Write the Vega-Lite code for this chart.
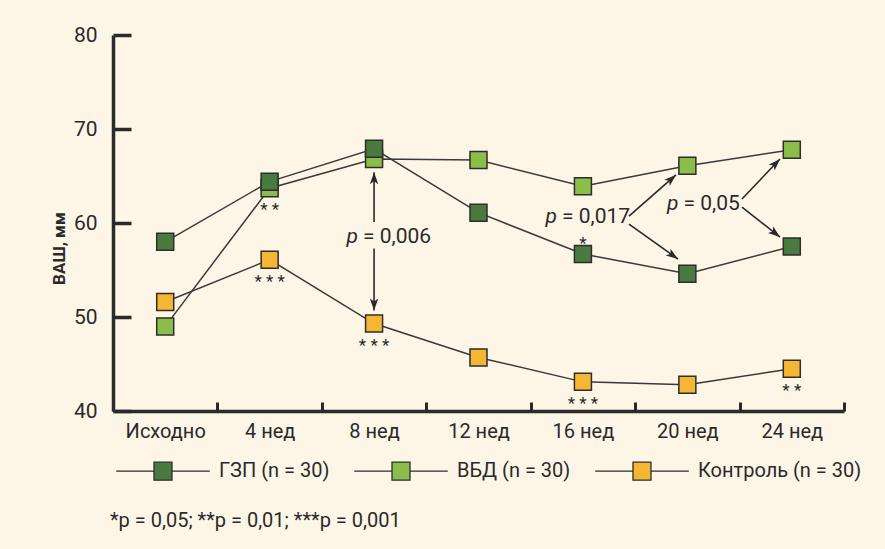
{
  "$schema": "https://vega.github.io/schema/vega-lite/v6.json",
  "width": 731,
  "height": 376,
  "autosize": "none",
  "padding": {"left": 113, "top": 35, "right": 41, "bottom": 138},
  "background": "#fdf6e6",
  "config": {
    "font": "Roboto, Liberation Sans, sans-serif",
    "view": {"stroke": null}
  },
  "title": {
    "text": "*p = 0,05; **p = 0,01; ***p = 0,001",
    "orient": "bottom",
    "anchor": "start",
    "frame": "group",
    "offset": 28,
    "dx": -3,
    "fontSize": 20,
    "fontWeight": "normal",
    "color": "#2a2a2a"
  },
  "datasets": {
    "main": [
      {"week": "Исходно", "series": "ВБД (n = 30)", "value": 49.0},
      {"week": "4 нед", "series": "ВБД (n = 30)", "value": 63.7},
      {"week": "8 нед", "series": "ВБД (n = 30)", "value": 66.8},
      {"week": "12 нед", "series": "ВБД (n = 30)", "value": 66.7},
      {"week": "16 нед", "series": "ВБД (n = 30)", "value": 63.9},
      {"week": "20 нед", "series": "ВБД (n = 30)", "value": 66.1},
      {"week": "24 нед", "series": "ВБД (n = 30)", "value": 67.8},
      {"week": "Исходно", "series": "ГЗП (n = 30)", "value": 58.0},
      {"week": "4 нед", "series": "ГЗП (n = 30)", "value": 64.4},
      {"week": "8 нед", "series": "ГЗП (n = 30)", "value": 67.9},
      {"week": "12 нед", "series": "ГЗП (n = 30)", "value": 61.1},
      {"week": "16 нед", "series": "ГЗП (n = 30)", "value": 56.7},
      {"week": "20 нед", "series": "ГЗП (n = 30)", "value": 54.6},
      {"week": "24 нед", "series": "ГЗП (n = 30)", "value": 57.5},
      {"week": "Исходно", "series": "Контроль (n = 30)", "value": 51.6},
      {"week": "4 нед", "series": "Контроль (n = 30)", "value": 56.1},
      {"week": "8 нед", "series": "Контроль (n = 30)", "value": 49.3},
      {"week": "12 нед", "series": "Контроль (n = 30)", "value": 45.7},
      {"week": "16 нед", "series": "Контроль (n = 30)", "value": 43.1},
      {"week": "20 нед", "series": "Контроль (n = 30)", "value": 42.8},
      {"week": "24 нед", "series": "Контроль (n = 30)", "value": 44.5}
    ],
    "stars": [
      {"week": "4 нед", "value": 63.7, "stars": "* *", "pos": "below"},
      {"week": "4 нед", "value": 56.1, "stars": "* * *", "pos": "below"},
      {"week": "8 нед", "value": 49.3, "stars": "* * *", "pos": "below"},
      {"week": "16 нед", "value": 43.1, "stars": "* * *", "pos": "below"},
      {"week": "24 нед", "value": 44.5, "stars": "* *", "pos": "below"},
      {"week": "16 нед", "value": 56.7, "stars": "*", "pos": "above"}
    ],
    "arrows": [
      {"x1": 2.0, "y1": 60.1, "x2": 2.0, "y2": 65.4, "angle": 0},
      {"x1": 2.0, "y1": 57.3, "x2": 2.0, "y2": 50.7, "angle": 180},
      {"x1": 4.441, "y1": 60.74, "x2": 4.891, "y2": 65.11, "angle": 49},
      {"x1": 4.441, "y1": 59.89, "x2": 4.91, "y2": 56.17, "angle": 125},
      {"x1": 5.523, "y1": 62.55, "x2": 5.887, "y2": 66.81, "angle": 44},
      {"x1": 5.523, "y1": 61.7, "x2": 5.887, "y2": 58.51, "angle": 128}
    ],
    "plabels": [
      {"x": 1.865, "y": 58.5, "p": "p", "rest": "= 0,006"},
      {"x": 3.771, "y": 60.64, "p": "p", "rest": "= 0,017"},
      {"x": 4.934, "y": 62.02, "p": "p", "rest": "= 0,05"}
    ]
  },
  "resolve": {"scale": {"x": "independent"}},
  "layer": [
    {
      "data": {"name": "main"},
      "encoding": {
        "x": {
          "field": "week",
          "type": "nominal",
          "sort": ["Исходно", "4 нед", "8 нед", "12 нед", "16 нед", "20 нед", "24 нед"],
          "scale": {"paddingInner": 0, "paddingOuter": 0},
          "axis": {
            "title": null,
            "labelAngle": 0,
            "tickBand": "extent",
            "tickSize": -9,
            "tickWidth": 3,
            "tickColor": "#2a2a2a",
            "domainWidth": 3.5,
            "domainColor": "#2a2a2a",
            "labelFontSize": 20,
            "labelColor": "#2a2a2a",
            "labelPadding": 19
          }
        },
        "y": {
          "field": "value",
          "type": "quantitative",
          "scale": {"domain": [40, 80], "nice": false, "zero": false},
          "axis": {
            "title": "ВАШ, мм",
            "values": [40, 50, 60, 70, 80],
            "grid": false,
            "tickSize": -18,
            "tickWidth": 3.5,
            "tickColor": "#2a2a2a",
            "domainWidth": 3.5,
            "domainColor": "#2a2a2a",
            "labelFontSize": 21,
            "labelColor": "#2a2a2a",
            "labelPadding": 34,
            "titleFontSize": 17,
            "titleFontWeight": "bold",
            "titleColor": "#2a2a2a",
            "titleX": -54,
            "titleY": 213,
            "titleBaseline": "middle"
          }
        }
      },
      "layer": [
        {
          "mark": {"type": "line", "color": "#3a3a3a", "strokeWidth": 1.5},
          "encoding": {"detail": {"field": "series"}}
        },
        {
          "mark": {"type": "point", "shape": "square", "filled": true, "size": 289, "opacity": 1, "stroke": "#2d2d2d", "strokeWidth": 1.5},
          "encoding": {
            "color": {
              "field": "series",
              "type": "nominal",
              "scale": {
                "domain": ["ГЗП (n = 30)", "ВБД (n = 30)", "Контроль (n = 30)"],
                "range": ["#4a7a40", "#8bbd4b", "#f5b733"]
              },
              "legend": {
                "title": null,
                "orient": "none",
                "direction": "horizontal",
                "legendX": 40,
                "legendY": 426,
                "symbolType": "M-5.2,0H-1M1,0H5.2M-1,-1H1V1H-1Z",
                "symbolSize": 324,
                "symbolStrokeColor": "#2d2d2d",
                "symbolStrokeWidth": 1.3,
                "symbolOpacity": 1,
                "labelOffset": 46,
                "labelLimit": 400,
                "columnPadding": 21,
                "labelFontSize": 20,
                "labelColor": "#2a2a2a"
              }
            }
          }
        },
        {
          "transform": [{"filter": "datum.pos === 'below'"}],
          "data": {"name": "stars"},
          "mark": {"type": "text", "fontSize": 17, "baseline": "alphabetic", "dy": 27, "color": "#2a2a2a"},
          "encoding": {"text": {"field": "stars"}}
        },
        {
          "transform": [{"filter": "datum.pos === 'above'"}],
          "data": {"name": "stars"},
          "mark": {"type": "text", "fontSize": 17, "baseline": "alphabetic", "dy": -5, "color": "#2a2a2a"},
          "encoding": {"text": {"field": "stars"}}
        }
      ]
    },
    {
      "layer": [
        {
          "data": {"name": "arrows"},
          "mark": {"type": "rule", "color": "#2a2a2a", "strokeWidth": 1.6},
          "encoding": {
            "x": {"field": "x1", "type": "quantitative", "scale": {"domain": [-0.5, 6.5], "nice": false, "zero": false}, "axis": null},
            "x2": {"field": "x2"},
            "y": {"field": "y1", "type": "quantitative", "scale": {"domain": [40, 80], "nice": false, "zero": false}},
            "y2": {"field": "y2"}
          }
        },
        {
          "data": {"name": "arrows"},
          "mark": {"type": "point", "shape": "M0,0L0.7,2L0,1.5L-0.7,2Z", "filled": true, "size": 144, "color": "#2a2a2a", "opacity": 1},
          "encoding": {
            "x": {"field": "x2", "type": "quantitative", "scale": {"domain": [-0.5, 6.5], "nice": false, "zero": false}, "axis": null},
            "y": {"field": "y2", "type": "quantitative"},
            "angle": {"field": "angle", "type": "quantitative", "scale": null}
          }
        },
        {
          "data": {"name": "plabels"},
          "mark": {"type": "text", "align": "right", "baseline": "middle", "dx": -2, "fontSize": 21, "fontStyle": "italic", "color": "#2a2a2a"},
          "encoding": {
            "x": {"field": "x", "type": "quantitative", "scale": {"domain": [-0.5, 6.5], "nice": false, "zero": false}, "axis": null},
            "y": {"field": "y", "type": "quantitative"},
            "text": {"field": "p"}
          }
        },
        {
          "data": {"name": "plabels"},
          "mark": {"type": "text", "align": "left", "baseline": "middle", "dx": 3, "fontSize": 21, "color": "#2a2a2a"},
          "encoding": {
            "x": {"field": "x", "type": "quantitative", "scale": {"domain": [-0.5, 6.5], "nice": false, "zero": false}, "axis": null},
            "y": {"field": "y", "type": "quantitative"},
            "text": {"field": "rest"}
          }
        }
      ]
    }
  ]
}
